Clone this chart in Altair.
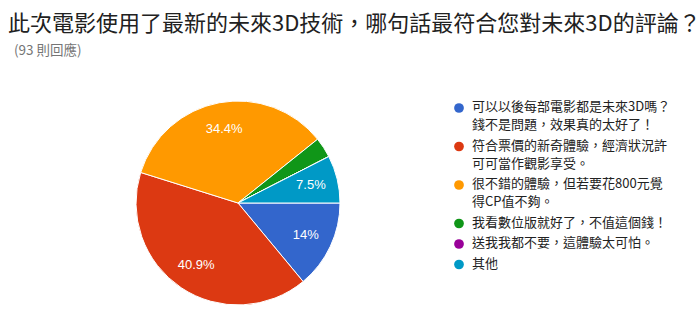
import altair as alt
import pandas as pd

categories = [
    "可以以後每部電影都是未來3D嗎？\n錢不是問題，效果真的太好了！",
    "符合票價的新奇體驗，經濟狀況許\n可可當作觀影享受。",
    "很不錯的體驗，但若要花800元覺\n得CP值不夠。",
    "我看數位版就好了，不值這個錢！",
    "送我我都不要，這體驗太可怕。",
    "其他",
]
counts = [13, 38, 32, 3, 0, 7]
colors = ["#3366cc", "#dc3912", "#ff9900", "#109618", "#990099", "#0099c6"]

df = pd.DataFrame({"cat": categories, "n": counts, "idx": list(range(len(categories)))})

FONT = "Noto Sans CJK TC"
TOP = 62          # top padding (room for the titles)
CX, CY = 238, 203 - TOP
LEG_TOP = 101 - TOP

color_enc = alt.Color(
    "cat:N",
    scale=alt.Scale(domain=categories, range=colors),
    sort=categories,
    legend=None,
)

base = alt.Chart(df).transform_joinaggregate(
    total="sum(n)"
).transform_calculate(
    pct="datum.n / datum.total * 100",
    lbl="datum.n / datum.total * 100 > 5 ? format(datum.n / datum.total * 100, '.1~f') + '%' : ''",
).encode(
    theta=alt.Theta("n:Q", stack=True, scale=alt.Scale(range=[1.5707963, 7.8539816])),
    order=alt.Order("idx:Q"),
)

arcs = base.mark_arc(stroke="white", strokeWidth=1, radius=102).encode(
    x=alt.value(CX),
    y=alt.value(CY),
    color=color_enc,
)

texts = base.mark_text(
    radius=75, color="white", fontSize=13, font="Liberation Sans"
).encode(
    x=alt.value(CX),
    y=alt.value(CY),
    text="lbl:N",
)

# legend built from the same data: each entry sits below the previous one's lines
leg = alt.Chart(df).transform_calculate(
    nlines="length(split(datum.cat, '\\n'))"
).transform_window(
    cum="sum(nlines)", sort=[alt.SortField("idx")], frame=[None, 0]
).transform_calculate(
    pos="(datum.cum - datum.nlines) * 18 + datum.idx * 2.5"
)
yenc = alt.Y("pos:Q", scale=alt.Scale(domain=[0, 200], range=[LEG_TOP, LEG_TOP + 200]), axis=None)

leg_pts = leg.mark_circle(size=95, opacity=1, yOffset=7).encode(
    x=alt.value(459), y=yenc, color=color_enc
)
leg_txt = leg.mark_text(
    align="left", baseline="top", lineBreak="\n", lineHeight=18,
    fontSize=13, font=FONT, color="#222222",
).encode(
    x=alt.value(472), y=yenc, text="cat:N"
)

chart = alt.layer(arcs, texts, leg_pts, leg_txt).properties(
    width=700,
    height=309 - TOP,
    padding={"left": 0, "top": TOP, "right": 0, "bottom": 0},
    autosize=alt.AutoSizeParams(type="none"),
    title=alt.Title(
        "此次電影使用了最新的未來3D技術，哪句話最符合您對未來3D的評論？",
        subtitle="\u200b\u00a0\u00a0(93 則回應)",
        anchor="start",
        frame="group",
        font=FONT,
        fontSize=22,
        fontWeight="normal",
        color="#212121",
        subtitleFont=FONT,
        subtitleFontSize=13.5,
        subtitleColor="#757575",
        subtitlePadding=8,
        dx=8,
        offset=4,
    ),
).configure_view(stroke=None)

chart.save("out.html", embed_options={"renderer": "svg", "actions": False})
